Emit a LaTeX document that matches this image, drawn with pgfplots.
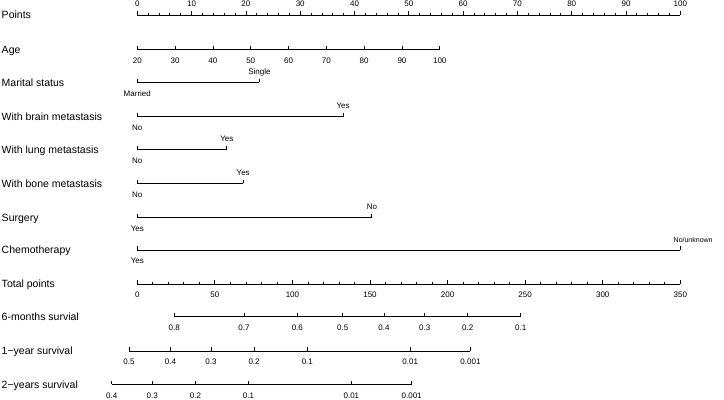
\documentclass[border=0pt]{standalone}
\usepackage{fontspec}
\setmainfont{Liberation Sans}
\usepackage{pgfplots}
\pgfplotsset{compat=1.18}
\pgfdeclareplotmark{tu}{\pgfpathmoveto{\pgfqpoint{0pt}{0pt}}\pgfpathlineto{\pgfqpoint{0pt}{\pgfplotmarksize}}\pgfusepathqstroke}
\newcommand\tickfont{\fontsize{8bp}{9bp}\selectfont}
\newcommand\rowfont{\fontsize{10.5bp}{12bp}\selectfont}
\pgfplotsset{
  nomline/.style={black, line width=0.8bp, mark=none},
  tks/.style={black, only marks, mark=tu, mark size=#1, mark options={line width=0.8bp}},
  tks/.default=3.5bp,
  lab/.style={tks, nodes near coords, point meta=explicit symbolic,
    every node near coord/.style={anchor=base, inner sep=0pt, font=\tickfont, yshift=#1}},
  labup/.style={lab=8bp},
  labdn/.style={lab=-13.9bp},
  rowlab/.style={},
}
\tikzset{rowl/.style={anchor=base west, inner sep=0pt, font=\rowfont, yshift=-3.8bp}}
\begin{document}
\begin{tikzpicture}
\begin{axis}[width=724bp, height=400bp, scale only axis,
  xmin=-25.285, xmax=108.047, ymin=0, ymax=400, hide axis, clip=false]
% ---------- Points ----------
\addplot[nomline] coordinates {(0,385) (100,385)};
\addplot[tks=2bp] coordinates {(0,385)(2,385)(4,385)(6,385)(8,385)(10,385)(12,385)(14,385)(16,385)(18,385)(20,385)(22,385)(24,385)(26,385)(28,385)(30,385)(32,385)(34,385)(36,385)(38,385)(40,385)(42,385)(44,385)(46,385)(48,385)(50,385)(52,385)(54,385)(56,385)(58,385)(60,385)(62,385)(64,385)(66,385)(68,385)(70,385)(72,385)(74,385)(76,385)(78,385)(80,385)(82,385)(84,385)(86,385)(88,385)(90,385)(92,385)(94,385)(96,385)(98,385)(100,385)};
\addplot[labup] coordinates {(0,385)[0] (10,385)[10] (20,385)[20] (30,385)[30] (40,385)[40] (50,385)[50] (60,385)[60] (70,385)[70] (80,385)[80] (90,385)[90] (100,385)[100]};
% ---------- Age ----------
\addplot[nomline] coordinates {(0,350.7) (55.7,350.7)};
\addplot[labdn] coordinates {(0,350.7)[20] (6.96,350.7)[30] (13.93,350.7)[40] (20.89,350.7)[50] (27.85,350.7)[60] (34.81,350.7)[70] (41.78,350.7)[80] (48.74,350.7)[90] (55.7,350.7)[100]};
% ---------- Marital status ----------
\addplot[nomline] coordinates {(0,317.7) (22.5,317.7)};
\addplot[labdn] coordinates {(0,317.7)[Married]};
\addplot[labup] coordinates {(22.5,317.7)[Single]};
% ---------- Brain ----------
\addplot[nomline] coordinates {(0,283.3) (37.9,283.3)};
\addplot[labdn] coordinates {(0,283.3)[No]};
\addplot[labup] coordinates {(37.9,283.3)[Yes]};
% ---------- Lung ----------
\addplot[nomline] coordinates {(0,250.7) (16.5,250.7)};
\addplot[labdn] coordinates {(0,250.7)[No]};
\addplot[labup] coordinates {(16.5,250.7)[Yes]};
% ---------- Bone ----------
\addplot[nomline] coordinates {(0,216.7) (19.5,216.7)};
\addplot[labdn] coordinates {(0,216.7)[No]};
\addplot[labup] coordinates {(19.5,216.7)[Yes]};
% ---------- Surgery ----------
\addplot[nomline] coordinates {(0,182.7) (43.2,182.7)};
\addplot[labdn] coordinates {(0,182.7)[Yes]};
\addplot[labup] coordinates {(43.2,182.7)[No]};
% ---------- Chemotherapy ----------
\addplot[nomline] coordinates {(0,150) (100,150)};
\addplot[labdn] coordinates {(0,150)[Yes]};
\addplot[tks, nodes near coords, point meta=explicit symbolic,
  every node near coord/.style={anchor=base west, inner sep=0pt, font=\fontsize{7bp}{8bp}\selectfont, yshift=8bp, xshift=-7bp}]
  coordinates {(100,150)[No/unknown]};
% ---------- Total points ----------
\addplot[nomline] coordinates {(0,116) (100,116)};
\addplot[tks=2bp] coordinates {(0,116)(2.857,116)(5.714,116)(8.571,116)(11.429,116)(14.286,116)(17.143,116)(20,116)(22.857,116)(25.714,116)(28.571,116)(31.429,116)(34.286,116)(37.143,116)(40,116)(42.857,116)(45.714,116)(48.571,116)(51.429,116)(54.286,116)(57.143,116)(60,116)(62.857,116)(65.714,116)(68.571,116)(71.429,116)(74.286,116)(77.143,116)(80,116)(82.857,116)(85.714,116)(88.571,116)(91.429,116)(94.286,116)(97.143,116)(100,116)};
\addplot[labdn] coordinates {(0,116)[0] (14.286,116)[50] (28.571,116)[100] (42.857,116)[150] (57.143,116)[200] (71.429,116)[250] (85.714,116)[300] (100,116)[350]};
% ---------- 6-months survival ----------
\addplot[nomline] coordinates {(6.81,83.3) (70.61,83.3)};
\addplot[labdn] coordinates {(6.81,83.3)[0.8] (19.65,83.3)[0.7] (29.47,83.3)[0.6] (37.83,83.3)[0.5] (45.43,83.3)[0.4] (52.93,83.3)[0.3] (60.85,83.3)[0.2] (70.61,83.3)[0.1]};
% ---------- 1-year survival ----------
\addplot[nomline] coordinates {(-1.53,49) (61.36,49)};
\addplot[labdn] coordinates {(-1.53,49)[0.5] (6.11,49)[0.4] (13.57,49)[0.3] (21.51,49)[0.2] (31.31,49)[0.1] (50.26,49)[0.01] (61.36,49)[0.001]};
% ---------- 2-years survival ----------
\addplot[nomline] coordinates {(-4.71,15.7) (50.53,15.7)};
\addplot[labdn] coordinates {(-4.71,15.7)[0.4] (2.74,15.7)[0.3] (10.70,15.7)[0.2] (20.48,15.7)[0.1] (39.43,15.7)[0.01] (50.53,15.7)[0.001]};
% ---------- row labels ----------
\node[rowl] at (axis cs:-25.0,385) {Points};
\node[rowl] at (axis cs:-25.0,350.7) {Age};
\node[rowl] at (axis cs:-25.0,317.7) {Marital status};
\node[rowl] at (axis cs:-25.0,283.3) {With brain metastasis};
\node[rowl] at (axis cs:-25.0,250.7) {With lung metastasis};
\node[rowl] at (axis cs:-25.0,216.7) {With bone metastasis};
\node[rowl] at (axis cs:-25.0,182.7) {Surgery};
\node[rowl] at (axis cs:-25.0,150) {Chemotherapy};
\node[rowl] at (axis cs:-25.0,116) {Total points};
\node[rowl] at (axis cs:-25.0,83.3) {6-months survial};
\node[rowl] at (axis cs:-25.0,49) {1−year survival};
\node[rowl] at (axis cs:-25.0,15.7) {2−years survival};
\end{axis}
\pgfresetboundingbox
\path (current axis.south west) rectangle (current axis.north east);
\end{tikzpicture}
\end{document}
